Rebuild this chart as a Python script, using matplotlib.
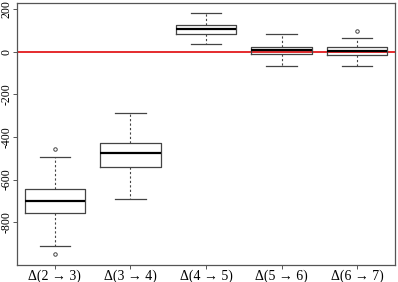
import matplotlib
matplotlib.use("Agg")
import matplotlib.pyplot as plt

labels = ["Δ(2 → 3)", "Δ(3 → 4)", "Δ(4 → 5)", "Δ(5 → 6)", "Δ(6 → 7)"]
whislo = [-911, -693, 36, -67, -67]
q1 = [-758, -543, 85, -11, -14]
med = [-700, -475, 107, 11, 5]
q3 = [-646, -430, 126, 25, 25]
whishi = [-493, -289, 184, 83, 66]
fliers = [[-456, -952], [], [], [], [99]]
yticks = [200, 0, -200, -400, -600, -800]

stats = []
for i in range(len(labels)):
    stats.append({"label": labels[i], "whislo": whislo[i], "q1": q1[i], "med": med[i],
                  "q3": q3[i], "whishi": whishi[i], "fliers": fliers[i]})

plt.rcParams["font.family"] = ["Liberation Serif", "DejaVu Serif"]

fig = plt.figure(figsize=(3.98, 2.82), dpi=100)
ax = fig.add_axes([17 / 398, 17 / 282, 378 / 398, 262 / 282])

ax.bxp(stats, positions=range(1, 6), widths=0.8, patch_artist=False,
       boxprops=dict(color="#444444", linewidth=0.9),
       medianprops=dict(color="black", linewidth=1.6),
       whiskerprops=dict(color="#444444", linewidth=0.8, linestyle=(0, (2, 2))),
       capprops=dict(color="#444444", linewidth=0.9),
       flierprops=dict(marker="o", markersize=2.5, markerfacecolor="none",
                       markeredgecolor="#444444", markeredgewidth=0.7),
       capwidths=0.4)

ax.axhline(0, color="#e31a1c", linewidth=1.3, zorder=0)

ax.set_xlim(0.5, 5.5)
ax.set_ylim(-1002, 230)
ax.set_yticks(yticks)
ax.set_yticklabels([str(v) for v in yticks], rotation=90, va="center", fontsize=8.5)
ax.set_xticks(range(1, 6))
ax.set_xticklabels(labels, fontsize=10)
ax.tick_params(axis="x", length=3, width=0.7, color="#555555", pad=0.5)
ax.tick_params(axis="y", length=3, width=0.7, color="#555555", pad=0.5)
for s in ax.spines.values():
    s.set_color("#555555")
    s.set_linewidth(0.9)

fig.savefig("out.png", dpi=100)
